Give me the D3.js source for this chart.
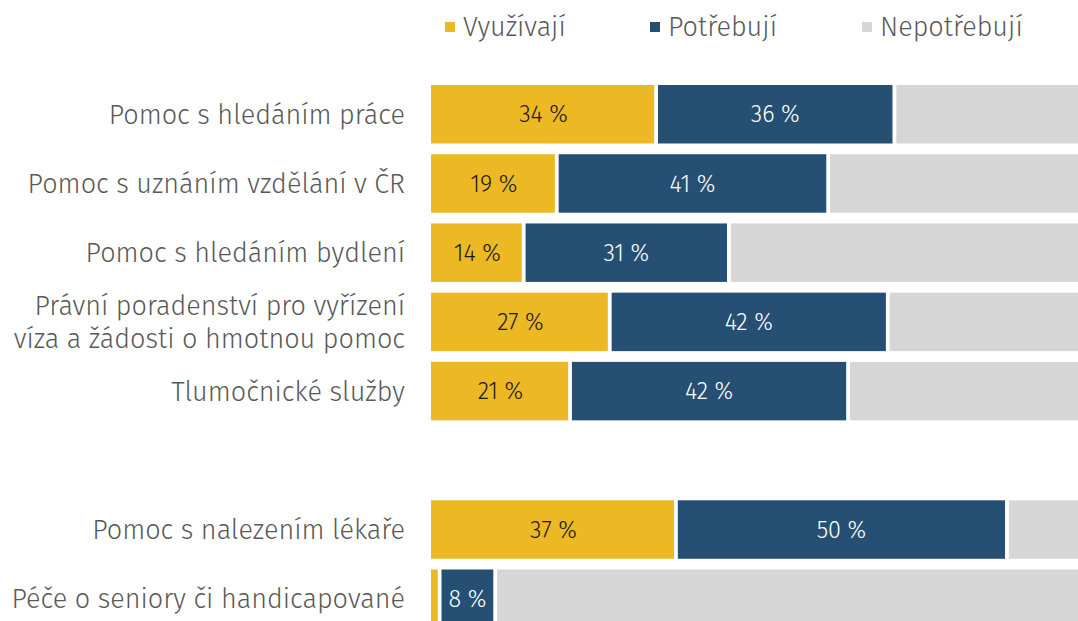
<!DOCTYPE html>
<html>
<head>
<meta charset="utf-8">
<script src="https://cdn.jsdelivr.net/npm/d3@7"></script>
<style>
  body { margin: 0; background: #fff; }
  svg { display: block; font-family: "Fira Sans", "Noto Sans", sans-serif; font-weight: 300; }
</style>
</head>
<body>
<svg width="1078" height="621"></svg>
<script>
// data (empty string = spacer row)
var categories = [
  "Pomoc s hledáním práce",
  "Pomoc s uznáním vzdělání v ČR",
  "Pomoc s hledáním bydlení",
  "Právní poradenství pro vyřízení|víza a žádosti o hmotnou pomoc",
  "Tlumočnické služby",
  "",
  "Pomoc s nalezením lékaře",
  "Péče o seniory či handicapované"
];
var vyuzivaji   = [34, 19, 14, 27, 21, 0, 37, 1.3];
var potrebuji   = [36, 41, 31, 42, 42, 0, 50, 8.4];
var nepotrebuji = [30, 40, 55, 31, 37, 0, 13, 90.3];
var seriesNames = ["Využívají", "Potřebují", "Nepotřebují"];
var colors = ["#ecb824", "#265073", "#d6d6d6"];
var labelColors = ["#1a1a1a", "#ffffff", "#555555"];

var svg = d3.select("svg");

var rows = categories.map(function(c, i) {
  return { cat: c, "Využívají": vyuzivaji[i], "Potřebují": potrebuji[i], "Nepotřebují": nepotrebuji[i] };
});

var stack = d3.stack().keys(seriesNames);
var series = stack(rows.filter(function(r) { return r.cat !== ""; }));

var x = d3.scaleLinear().domain([0, 100]).range([431, 1093]);
var y = d3.scaleBand()
    .domain(categories.map(function(c, i) { return i; }))
    .range([85, 628])
    .paddingInner(0.155)
    .paddingOuter(0);

var gap = 1.9;

var layers = svg.append("g").selectAll("g")
    .data(series)
    .enter()
    .append("g")
    .attr("fill", function(d, i) { return colors[i]; });

layers.selectAll("rect")
    .data(function(d) { return d; })
    .enter()
    .append("rect")
    .attr("x", function(d) { return x(d[0]) + (d[0] > 0 ? gap : 0); })
    .attr("y", function(d) { return y(categories.indexOf(d.data.cat)); })
    .attr("width", function(d) {
      var x0 = x(d[0]) + (d[0] > 0 ? gap : 0);
      return Math.max(0, x(d[1]) - gap - x0);
    })
    .attr("height", y.bandwidth());

// value labels (first two series only)
layers.filter(function(d, i) { return i < 2; })
  .each(function(s, si) {
    d3.select(this).selectAll("text")
      .data(s.filter(function(d) { return d[1] - d[0] >= 5; }))
      .enter()
      .append("text")
      .attr("x", function(d) { return (x(d[0]) + x(d[1])) / 2; })
      .attr("y", function(d) { return y(categories.indexOf(d.data.cat)) + y.bandwidth() / 2; })
      .attr("dy", "0.35em")
      .attr("text-anchor", "middle")
      .attr("font-size", 23.5)
      .attr("fill", labelColors[si])
      .text(function(d) { return Math.round(d[1] - d[0]) + " %"; });
  });

// category labels
var catLabels = svg.append("g").selectAll("text")
    .data(categories.filter(function(c) { return c !== ""; }))
    .enter()
    .append("text")
    .attr("x", 405)
    .attr("y", function(c) { return y(categories.indexOf(c)) + y.bandwidth() / 2; })
    .attr("text-anchor", "end")
    .attr("font-size", 27)
    .attr("fill", "#595959");

catLabels.each(function(c) {
  var lines = c.split("|");
  var t = d3.select(this);
  lines.forEach(function(l, i) {
    t.append("tspan")
      .attr("x", 405)
      .attr("dy", i === 0 ? (0.35 - (lines.length - 1) * 0.61) + "em" : "1.22em")
      .text(l);
  });
});

// legend
var legendX = [445, 650, 862];
var legend = svg.append("g").selectAll("g")
    .data(seriesNames)
    .enter()
    .append("g")
    .attr("transform", function(d, i) { return "translate(" + legendX[i] + ",0)"; });

legend.append("rect")
    .attr("x", 0)
    .attr("y", 22)
    .attr("width", 10)
    .attr("height", 10)
    .attr("fill", function(d, i) { return colors[i]; });

legend.append("text")
    .attr("x", 18)
    .attr("y", 27)
    .attr("dy", "0.35em")
    .attr("font-size", 27)
    .attr("fill", "#595959")
    .text(function(d) { return d; });
</script>
</body>
</html>
